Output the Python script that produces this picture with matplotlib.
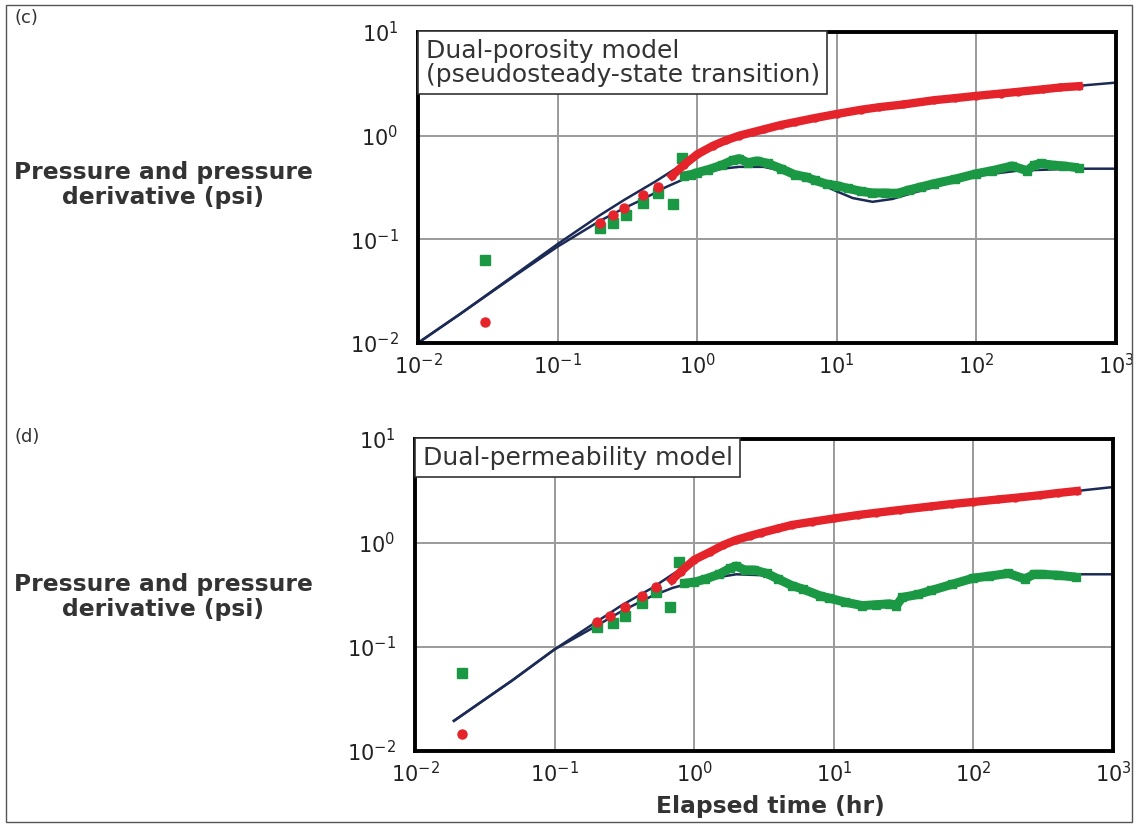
import numpy as np
import matplotlib
matplotlib.use("Agg")
import matplotlib.pyplot as plt
from matplotlib.patches import Rectangle

# ---- panel (c): dual-porosity model ----
c_model_p_t = [0.01, 0.02, 0.05, 0.1, 0.2, 0.3, 0.5, 0.7, 1, 1.5, 2, 3, 5, 10, 20, 50, 100, 200, 500, 1000]
c_model_p_v = [0.01, 0.019, 0.046, 0.09, 0.17, 0.24, 0.36, 0.48, 0.65, 0.85, 0.98, 1.15, 1.35, 1.62, 1.88, 2.2, 2.42, 2.68, 3.0, 3.25]
c_model_d_t = [0.01, 0.02, 0.05, 0.1, 0.2, 0.3, 0.4, 0.6, 0.8, 1, 1.5, 2, 3, 4, 5, 7, 10, 13, 18, 25, 35, 50, 100, 200, 500, 1000]
c_model_d_v = [0.01, 0.019, 0.045, 0.085, 0.15, 0.2, 0.24, 0.32, 0.38, 0.42, 0.48, 0.5, 0.5, 0.46, 0.42, 0.36, 0.29, 0.25, 0.23, 0.245, 0.28, 0.32, 0.41, 0.46, 0.48, 0.48]

c_red_pts_t = [0.03, 0.2, 0.25, 0.3, 0.41, 0.52]
c_red_pts_v = [0.016, 0.145, 0.17, 0.2, 0.265, 0.32]
c_red_band_t = [0.66, 0.8, 1, 1.3, 1.6, 2, 2.5, 3, 4, 5, 7, 10, 15, 20, 30, 50, 70, 100, 150, 200, 300, 400, 540]
c_red_band_v = [0.41, 0.52, 0.66, 0.8, 0.9, 1.0, 1.08, 1.15, 1.27, 1.35, 1.48, 1.62, 1.78, 1.88, 2.0, 2.2, 2.3, 2.42, 2.55, 2.65, 2.8, 2.92, 3.0]

c_grn_pts_t = [0.03, 0.2, 0.25, 0.31, 0.41, 0.52, 0.67, 0.78]
c_grn_pts_v = [0.063, 0.128, 0.143, 0.17, 0.226, 0.28, 0.22, 0.61]
c_grn_band_t = [0.8, 0.9, 1, 1.2, 1.5, 1.8, 2, 2.3, 2.7, 3.2, 4, 5, 6, 7, 8.5, 10, 12, 15, 18, 22, 27, 33, 40, 50, 70, 100, 130, 180, 230, 260, 290, 350, 420, 540]
c_grn_band_v = [0.41, 0.42, 0.44, 0.47, 0.52, 0.58, 0.6, 0.55, 0.57, 0.54, 0.48, 0.42, 0.4, 0.37, 0.34, 0.33, 0.31, 0.29, 0.28, 0.28, 0.277, 0.3, 0.32, 0.345, 0.38, 0.43, 0.46, 0.51, 0.46, 0.52, 0.54, 0.52, 0.51, 0.49]

# ---- panel (d): dual-permeability model ----
d_model_p_t = [0.019, 0.05, 0.1, 0.2, 0.3, 0.5, 0.7, 1, 1.5, 2, 3, 5, 10, 20, 50, 100, 200, 500, 1000]
d_model_p_v = [0.0195, 0.048, 0.095, 0.175, 0.25, 0.37, 0.5, 0.68, 0.88, 1.05, 1.25, 1.48, 1.72, 1.95, 2.25, 2.5, 2.75, 3.12, 3.45]
d_model_d_t = [0.019, 0.05, 0.1, 0.2, 0.3, 0.5, 0.7, 1, 1.5, 2, 3, 4, 5, 7, 10, 14, 20, 30, 50, 100, 200, 500, 1000]
d_model_d_v = [0.0195, 0.048, 0.095, 0.16, 0.22, 0.31, 0.37, 0.42, 0.47, 0.5, 0.49, 0.44, 0.39, 0.33, 0.29, 0.26, 0.255, 0.28, 0.35, 0.44, 0.49, 0.5, 0.5]

d_red_pts_t = [0.0216, 0.2, 0.25, 0.32, 0.42, 0.53]
d_red_pts_v = [0.0145, 0.174, 0.2, 0.24, 0.31, 0.38]
d_red_band_t = [0.69, 0.8, 1, 1.3, 1.6, 2, 2.5, 3, 4, 5, 7, 10, 15, 20, 30, 50, 70, 100, 150, 200, 300, 400, 550]
d_red_band_v = [0.44, 0.53, 0.69, 0.82, 0.95, 1.07, 1.17, 1.25, 1.38, 1.49, 1.6, 1.72, 1.86, 1.95, 2.08, 2.25, 2.37, 2.48, 2.62, 2.72, 2.88, 3.02, 3.16]

d_grn_pts_t = [0.0216, 0.2, 0.26, 0.32, 0.42, 0.53, 0.67, 0.78]
d_grn_pts_v = [0.056, 0.155, 0.17, 0.2, 0.265, 0.34, 0.24, 0.66]
d_grn_band_t = [0.85, 1, 1.2, 1.5, 1.8, 2, 2.3, 2.7, 3.3, 4, 5, 6, 8, 9.2, 12, 16, 20, 25, 28, 31, 40, 50, 70, 100, 130, 178, 234, 270, 310, 400, 540]
d_grn_band_v = [0.41, 0.42, 0.45, 0.5, 0.57, 0.6, 0.55, 0.55, 0.51, 0.45, 0.39, 0.36, 0.31, 0.296, 0.27, 0.25, 0.255, 0.26, 0.25, 0.3, 0.32, 0.35, 0.4, 0.46, 0.48, 0.51, 0.45, 0.5, 0.5, 0.49, 0.47]

x_ticks = [1e-2, 1e-1, 1e0, 1e1, 1e2, 1e3]
x_tick_labels = [r"$10^{-2}$", r"$10^{-1}$", r"$10^{0}$", r"$10^{1}$", r"$10^{2}$", r"$10^{3}$"]
y_ticks = [1e-2, 1e-1, 1e0, 1e1]
y_tick_labels = [r"$10^{-2}$", r"$10^{-1}$", r"$10^{0}$", r"$10^{1}$"]

RED = "#e5232b"
GREEN = "#1b9844"
NAVY = "#1c2b55"


def draw_panel(ax, model, red, green, box_text):
    mp_t, mp_v, md_t, md_v = model
    rp_t, rp_v, rb_t, rb_v = red
    gp_t, gp_v, gb_t, gb_v = green

    ax.plot(mp_t, mp_v, color=NAVY, lw=1.8, zorder=2)
    ax.plot(md_t, md_v, color=NAVY, lw=1.8, zorder=2)

    # derivative data (green squares)
    ax.plot(gp_t, gp_v, ls="none", marker="s", ms=6.5, color=GREEN, zorder=3)
    ax.plot(gb_t, gb_v, color=GREEN, lw=6.5, marker="s", ms=5.5, solid_capstyle="butt", zorder=3)
    # pressure data (red dots)
    ax.plot(rp_t, rp_v, ls="none", marker="o", ms=6.5, color=RED, zorder=4)
    ax.plot(rb_t, rb_v, color=RED, lw=6, marker="o", ms=5, zorder=4)

    ax.set_xscale("log")
    ax.set_yscale("log")
    ax.set_xlim(1e-2, 1e3)
    ax.set_ylim(1e-2, 1e1)
    ax.minorticks_off()
    ax.set_xticks(x_ticks)
    ax.set_xticklabels(x_tick_labels, fontsize=15, color="#222222")
    ax.set_yticks(y_ticks)
    ax.set_yticklabels(y_tick_labels, fontsize=15, color="#222222")
    ax.tick_params(length=0)
    ax.tick_params(axis="x", pad=7)
    ax.tick_params(axis="y", pad=14)
    ax.grid(True, color="#9a9a9a", lw=1.4)
    for s in ax.spines.values():
        s.set_linewidth(2.8)
        s.set_color("black")
        s.set_zorder(6)

    ax.text(0.011, 0.978, box_text, transform=ax.transAxes, ha="left", va="top",
            fontsize=18, color="#333333", linespacing=1.0, zorder=7,
            bbox=dict(boxstyle="square,pad=0.3", fc="white", ec="#333333", lw=1.2))


def main():
    fig = plt.figure(figsize=(11.38, 8.27), dpi=100)
    fig.patches.append(Rectangle((0.005, 0.006), 0.99, 0.988, transform=fig.transFigure,
                                 fill=False, ec="#555555", lw=1.0))

    ax1 = fig.add_axes([0.3673, 0.5853, 0.6134, 0.376])
    ax2 = fig.add_axes([0.3647, 0.0919, 0.6134, 0.3773])

    draw_panel(ax1, (c_model_p_t, c_model_p_v, c_model_d_t, c_model_d_v),
               (c_red_pts_t, c_red_pts_v, c_red_band_t, c_red_band_v),
               (c_grn_pts_t, c_grn_pts_v, c_grn_band_t, c_grn_band_v),
               "Dual-porosity model\n(pseudosteady-state transition)")
    draw_panel(ax2, (d_model_p_t, d_model_p_v, d_model_d_t, d_model_d_v),
               (d_red_pts_t, d_red_pts_v, d_red_band_t, d_red_band_v),
               (d_grn_pts_t, d_grn_pts_v, d_grn_band_t, d_grn_band_v),
               "Dual-permeability model")

    ylab = "Pressure and pressure\nderivative (psi)"
    fig.text(163 / 1138, 1 - 185 / 827, ylab, ha="center", va="center", fontsize=16.8,
             fontweight="bold", color="#333333", linespacing=1.1)
    fig.text(163 / 1138, 1 - 597 / 827, ylab, ha="center", va="center", fontsize=16.8,
             fontweight="bold", color="#333333", linespacing=1.1)
    fig.text(14 / 1138, 1 - 18 / 827, "(c)", ha="left", va="center", fontsize=13, color="#333333")
    fig.text(14 / 1138, 1 - 437 / 827, "(d)", ha="left", va="center", fontsize=13, color="#333333")
    fig.text(770 / 1138, 1 - 806 / 827, "Elapsed time (hr)", ha="center", va="center",
             fontsize=16.8, fontweight="bold", color="#333333")

    fig.savefig("out.png", dpi=100)


if __name__ == '__main__':
    main()
